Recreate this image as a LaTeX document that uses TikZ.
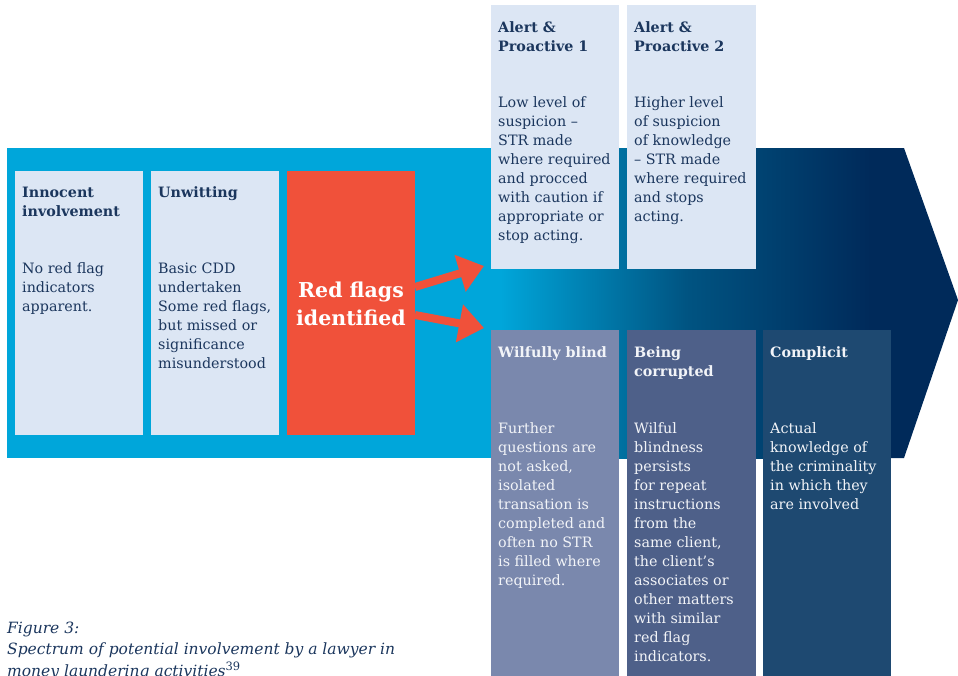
\documentclass[tikz,border=0pt]{standalone}
\usepackage{fontspec}
\setmainfont{DejaVu Serif}
\usetikzlibrary{arrows.meta}
\definecolor{arrcyan}{RGB}{0,166,218}
\definecolor{arrmid}{RGB}{0,84,130}
\definecolor{arrnavy}{RGB}{0,42,90}
\definecolor{lightbox}{RGB}{220,230,244}
\definecolor{flagred}{RGB}{240,81,58}
\definecolor{blindcol}{RGB}{122,136,173}
\definecolor{corruptcol}{RGB}{78,96,137}
\definecolor{complicitcol}{RGB}{30,73,113}
\definecolor{darktext}{RGB}{27,54,93}
\definecolor{lighttext}{RGB}{242,244,248}
\tikzset{
  panel/.style={anchor=north west, inner sep=0pt, outer sep=0pt, minimum width=128pt, minimum height=264pt},
  ttl/.style={anchor=base west, inner sep=0pt, align=left, font=\fontsize{14.3}{19}\selectfont\bfseries},
  bdy/.style={anchor=base west, inner sep=0pt, align=left, font=\fontsize{14.3}{19}\selectfont},
  redarrow/.style={draw=flagred, line width=8pt, -{Triangle[length=25pt, width=37pt]}},
}
\begin{document}
\begin{tikzpicture}[x=1pt, y=-1pt]
\useasboundingbox (0,0) rectangle (958,675);
\clip (0,0) rectangle (958,675);
% big arrow
\fill[arrcyan] (7,148) rectangle (501,458);
\shade[left color=arrcyan, right color=arrmid] (500,148) rectangle (686,458);
\shade[left color=arrmid, right color=arrnavy] (685,148) rectangle (871,458);
\fill[arrnavy] (870,148) -- (904,148) -- (958,300) -- (904,458) -- (870,458) -- cycle;
% left boxes
\node[panel, fill=lightbox] (inn) at (15,171) {};
\node[panel, fill=lightbox] (unw) at (151,171) {};
\node[panel, fill=flagred] (rf) at (287,171) {};
% top boxes
\node[panel, fill=lightbox] (al1) at (491,5) {};
\node[panel, fill=lightbox, minimum width=129pt] (al2) at (627,5) {};
% bottom boxes
\node[panel, fill=blindcol, minimum height=360pt] (wb) at (491,330) {};
\node[panel, fill=corruptcol, minimum width=129pt, minimum height=360pt] (bc) at (627,330) {};
\node[panel, fill=complicitcol, minimum height=360pt] (cp) at (763,330) {};
% texts (anchor = baseline of the last line)
\node[ttl, text=darktext] (innT) at (22,216) {Innocent\\involvement};
\node[bdy, text=darktext] (innB) at (22,311) {No red flag\\indicators\\apparent.};
\node[ttl, text=darktext] (unwT) at (158,197) {Unwitting};
\node[bdy, text=darktext] (unwB) at (158,368) {Basic CDD\\undertaken\\Some red flags,\\but missed or\\significance\\misunderstood};
\node[anchor=base, inner sep=0pt, align=center, text=white, font=\fontsize{20.5}{28}\selectfont\bfseries] (rfT) at (351,325) {Red flags\\identified};
\node[ttl, text=darktext] (al1T) at (498,51) {Alert \&\\Proactive 1};
\node[bdy, text=darktext] (al1B) at (498,240) {Low level of\\suspicion --\\STR made\\where required\\and procced\\with caution if\\appropriate or\\stop acting.};
\node[ttl, text=darktext] (al2T) at (634,51) {Alert \&\\Proactive 2};
\node[bdy, text=darktext] (al2B) at (634,221) {Higher level\\of suspicion\\of knowledge\\-- STR made\\where required\\and stops\\acting.};
\node[ttl, text=lighttext] (wbT) at (498,357) {Wilfully blind};
\node[bdy, text=lighttext] (wbB) at (498,585) {Further\\questions are\\not asked,\\isolated\\transation is\\completed and\\often no STR\\is filled where\\required.};
\node[ttl, text=lighttext] (bcT) at (634,376) {Being\\corrupted};
\node[bdy, text=lighttext] (bcB) at (634,661) {Wilful\\blindness\\persists\\for repeat\\instructions\\from the\\same client,\\the client’s\\associates or\\other matters\\with similar\\red flag\\indicators.};
\node[ttl, text=lighttext] (cpT) at (770,357) {Complicit};
\node[bdy, text=lighttext] (cpB) at (770,509) {Actual\\knowledge of\\the criminality\\in which they\\are involved};
% red arrows
\coordinate (tip1) at (484,266);
\coordinate (tip2) at (484,328);
\draw[redarrow] ([yshift=16pt]rf.east) -- (tip1);
\draw[redarrow] ([yshift=-12pt]rf.east) -- (tip2);
% caption
\node[anchor=base west, inner sep=0pt, align=left, text=darktext, font=\fontsize{15.5}{21.5}\selectfont\itshape] (cap) at (7,676) {Figure 3:\\Spectrum of potential involvement by a lawyer in\\money laundering activities\raisebox{6pt}{\upshape\fontsize{11.5}{12}\selectfont 39}};
\end{tikzpicture}
\end{document}
